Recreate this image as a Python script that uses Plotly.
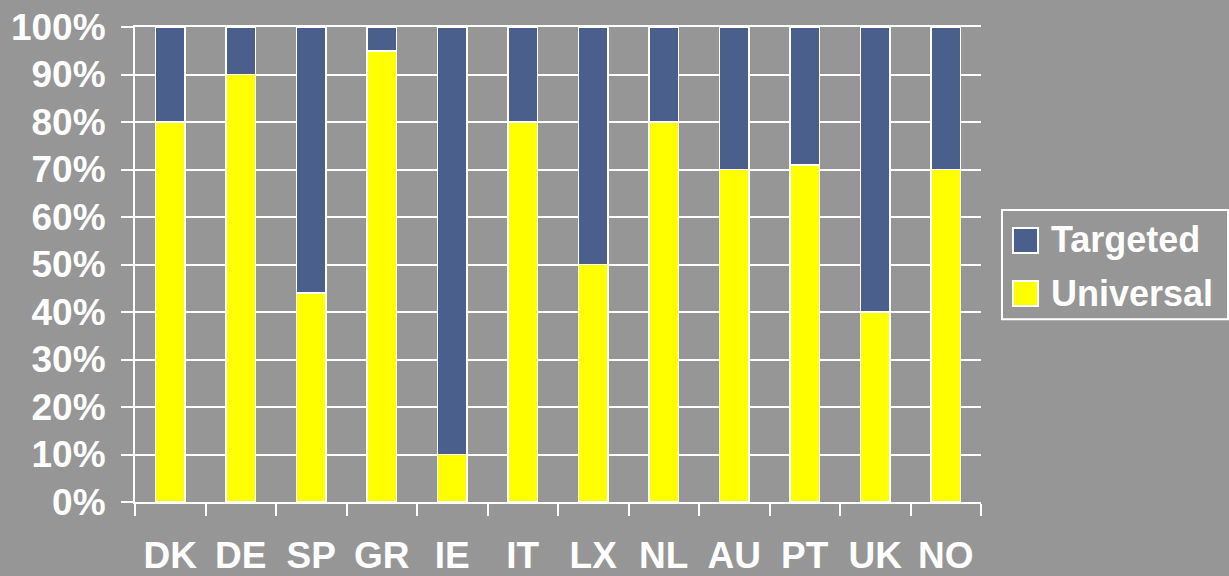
import plotly.graph_objects as go

countries = ["DK", "DE", "SP", "GR", "IE", "IT", "LX", "NL", "AU", "PT", "UK", "NO"]
universal = [80, 90, 44, 95, 10, 80, 50, 80, 70, 71, 40, 70]
targeted = [100 - u for u in universal]
y_ticks = [0, 10, 20, 30, 40, 50, 60, 70, 80, 90, 100]
y_tick_labels = [f"{v}%" for v in y_ticks]
series_names = ["Targeted", "Universal"]

BG = "#969696"
NAVY = "#4a5f8c"
YELLOW = "#ffff00"
FONT = "Arial, 'Liberation Sans', sans-serif"

fig = go.Figure()
fig.add_trace(go.Bar(x=countries, y=universal, name="Universal", showlegend=False,
                     marker=dict(color=YELLOW, line=dict(color="white", width=1.5))))
fig.add_trace(go.Bar(x=countries, y=targeted, name="Targeted", showlegend=False,
                     marker=dict(color=NAVY, line=dict(color="white", width=1.5))))

# custom legend (box, swatches, labels) in paper coordinates
shapes = [dict(type="rect", xref="paper", yref="paper", x0=1.0248, x1=1.292, y0=0.385, y1=0.615,
               line=dict(color="white", width=2), fillcolor=BG, layer="above")]
swatches = [(NAVY, 0.5242, 0.5768, 0.5516), (YELLOW, 0.4126, 0.4653, 0.44)]
annotations = []
for name, (col, y0, y1, yc) in zip(series_names, swatches):
    shapes.append(dict(type="rect", xref="paper", yref="paper", x0=1.0378, x1=1.0674, y0=y0, y1=y1,
                       fillcolor=col, line=dict(color="white", width=2), layer="above"))
    annotations.append(dict(xref="paper", yref="paper", x=1.0805, y=yc, xanchor="left", yanchor="middle",
                            text=name, showarrow=False,
                            font=dict(size=36, family=FONT, color="white", weight="bold")))

fig.update_layout(
    width=1229, height=576,
    barmode="stack", bargap=0.58,
    paper_bgcolor=BG, plot_bgcolor=BG,
    margin=dict(l=135, r=248, t=27, b=74, autoexpand=False),
    font=dict(family=FONT, color="white", size=37),
    showlegend=False,
    shapes=shapes, annotations=annotations,
    xaxis=dict(
        showgrid=False, showline=True, linecolor="white", linewidth=2,
        ticks="outside", tickson="boundaries", ticklen=12, tickwidth=2, tickcolor="white",
        tickfont=dict(size=37, family=FONT, color="white", weight="bold"),
        ticklabelstandoff=20, mirror=True, automargin=False,
    ),
    yaxis=dict(
        range=[0, 100], tickvals=y_ticks, ticktext=y_tick_labels,
        showgrid=True, gridcolor="white", gridwidth=2,
        showline=True, linecolor="white", linewidth=2,
        ticks="outside", ticklen=12, tickwidth=2, tickcolor="white",
        tickfont=dict(size=37, family=FONT, color="white", weight="bold"),
        ticklabelstandoff=8, zeroline=False, automargin=False,
    ),
)

fig.write_html("out.html", config={"displayModeBar": False},
               post_script="document.body.style.margin='0';document.body.style.overflow='hidden';")
